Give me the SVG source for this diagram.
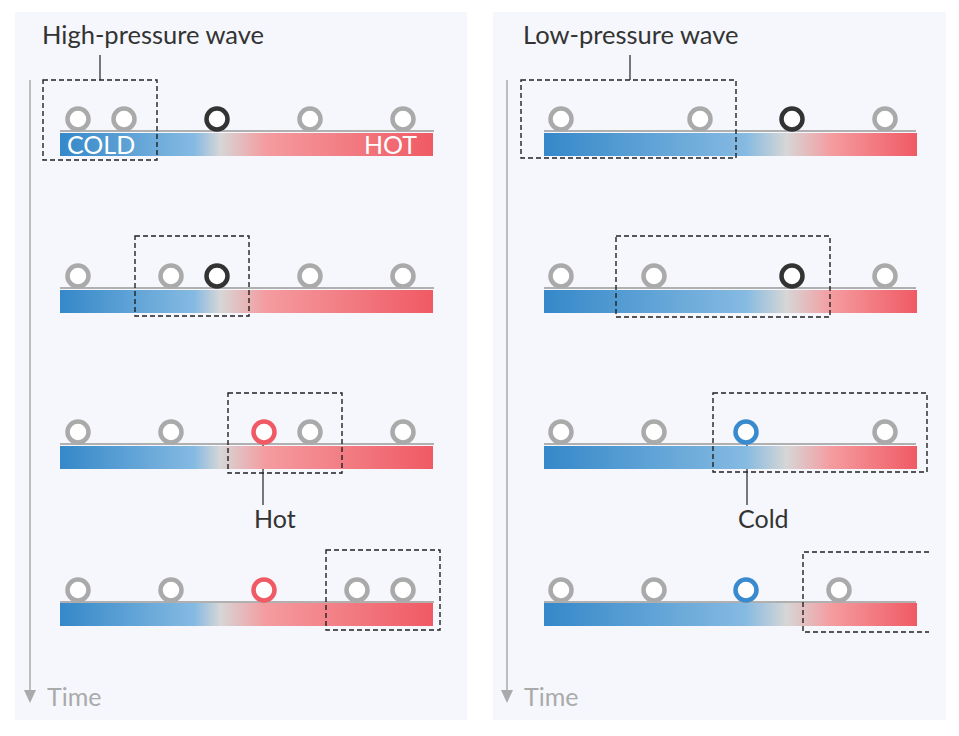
<svg xmlns="http://www.w3.org/2000/svg" width="959" height="736" viewBox="0 0 959 736">
<defs>
<linearGradient id="gL" x1="0" y1="0" x2="1" y2="0">
<stop offset="0" stop-color="#3588c9"/><stop offset="0.36" stop-color="#85bae2"/><stop offset="0.43" stop-color="#d6d6d6"/><stop offset="0.55" stop-color="#f49ca0"/><stop offset="1" stop-color="#f05a64"/>
</linearGradient>
<linearGradient id="gR" x1="0" y1="0" x2="1" y2="0">
<stop offset="0" stop-color="#3588c9"/><stop offset="0.54" stop-color="#85bae2"/><stop offset="0.65" stop-color="#d6d6d6"/><stop offset="0.77" stop-color="#f49ca0"/><stop offset="1" stop-color="#f05a64"/>
</linearGradient>
</defs>
<style>
.panel{fill:#f5f7fc}
.title{font-family:Lato,"Liberation Sans",sans-serif;font-size:25.5px;fill:#333}
.time{font-family:Lato,"Liberation Sans",sans-serif;font-size:25px;fill:#aaa}
.lbl{font-family:Lato,"Liberation Sans",sans-serif;font-size:25px;fill:#333}
.bar-t{font-family:Lato,"Liberation Sans",sans-serif;font-size:25px;fill:#fff}
.rail{stroke:#999;stroke-width:1.5}
.g{fill:#fff;stroke:#aaa;stroke-width:4.5}
.k{fill:#fff;stroke:#333;stroke-width:4.5}
.r{fill:#fff;stroke:#f05a64;stroke-width:4.5}
.b{fill:#fff;stroke:#3a8bcd;stroke-width:4.5}
.box{fill:none;stroke:#222;stroke-width:1.4;stroke-dasharray:5 3}
.lead{stroke:#333;stroke-width:1.3;fill:none}
.axis{stroke:#aaa;stroke-width:1.5;fill:none}
.head{fill:#aaa}
</style>
<rect class="panel" x="15" y="12" width="452" height="708"/>
<rect class="panel" x="493" y="12" width="453" height="708"/>

<g id="left-title"><text class="title" x="42" y="44">High-pressure wave</text></g>
<g id="right-title"><text class="title" x="523" y="44">Low-pressure wave</text></g>

<g id="left-time"><text class="time" x="47" y="706">Time</text></g>
<g id="right-time"><text class="time" x="524" y="706">Time</text></g>

<g id="connectors">
<line class="axis" x1="30" y1="80" x2="30" y2="692"/>
<polygon class="head" points="24,690 36,690 30,703"/>
<line class="axis" x1="507" y1="80" x2="507" y2="692"/>
<polygon class="head" points="501,690 513,690 507,703"/>
<line class="lead" x1="100" y1="55" x2="100" y2="80"/>
<line class="lead" x1="630" y1="55" x2="630" y2="80"/>
<line class="lead" x1="263" y1="445" x2="263" y2="505"/>
<line class="lead" x1="747" y1="445" x2="747" y2="505"/>
</g>

<g id="left-row1">
<rect x="60" y="133" width="373" height="23" fill="url(#gL)"/>
<line class="rail" x1="60" y1="131" x2="434" y2="131"/>
<text class="bar-t" x="67" y="154">COLD</text>
<text class="bar-t" x="417" y="154" text-anchor="end">HOT</text>
<circle class="g" cx="78" cy="119" r="10.5"/><circle class="g" cx="124" cy="119" r="10.5"/><circle class="k" cx="217" cy="119" r="10.5"/><circle class="g" cx="310" cy="119" r="10.5"/><circle class="g" cx="403" cy="119" r="10.5"/>
<rect class="box" x="43" y="80" width="114" height="80"/>
</g>
<g id="left-row2">
<rect x="60" y="290" width="373" height="23" fill="url(#gL)"/>
<line class="rail" x1="60" y1="288" x2="434" y2="288"/>
<circle class="g" cx="78" cy="276" r="10.5"/><circle class="g" cx="171" cy="276" r="10.5"/><circle class="k" cx="217" cy="276" r="10.5"/><circle class="g" cx="310" cy="276" r="10.5"/><circle class="g" cx="403" cy="276" r="10.5"/>
<rect class="box" x="135" y="236" width="114" height="80"/>
</g>
<g id="left-row3">
<rect x="60" y="446" width="373" height="23" fill="url(#gL)"/>
<line class="rail" x1="60" y1="444" x2="434" y2="444"/>
<circle class="g" cx="78" cy="432" r="10.5"/><circle class="g" cx="171" cy="432" r="10.5"/><circle class="r" cx="264" cy="432" r="10.5"/><circle class="g" cx="310" cy="432" r="10.5"/><circle class="g" cx="403" cy="432" r="10.5"/>
<rect class="box" x="228" y="393" width="114" height="80"/>
<text class="lbl" x="254" y="528">Hot</text>
</g>
<g id="left-row4">
<rect x="60" y="603" width="373" height="23" fill="url(#gL)"/>
<line class="rail" x1="60" y1="602" x2="434" y2="602"/>
<circle class="g" cx="78" cy="590" r="10.5"/><circle class="g" cx="171" cy="590" r="10.5"/><circle class="r" cx="264" cy="590" r="10.5"/><circle class="g" cx="357" cy="590" r="10.5"/><circle class="g" cx="403" cy="590" r="10.5"/>
<rect class="box" x="326" y="550" width="114" height="80"/>
</g>

<g id="right-row1">
<rect x="544" y="133" width="373" height="23" fill="url(#gR)"/>
<line class="rail" x1="544" y1="131" x2="916" y2="131"/>
<circle class="g" cx="561" cy="119" r="10.5"/><circle class="g" cx="700" cy="119" r="10.5"/><circle class="k" cx="792" cy="119" r="10.5"/><circle class="g" cx="885" cy="119" r="10.5"/>
<rect class="box" x="521" y="80" width="215" height="78"/>
</g>
<g id="right-row2">
<rect x="544" y="290" width="373" height="23" fill="url(#gR)"/>
<line class="rail" x1="544" y1="288" x2="916" y2="288"/>
<circle class="g" cx="561" cy="276" r="10.5"/><circle class="g" cx="654" cy="276" r="10.5"/><circle class="k" cx="792" cy="276" r="10.5"/><circle class="g" cx="885" cy="276" r="10.5"/>
<rect class="box" x="616" y="236" width="214" height="81"/>
</g>
<g id="right-row3">
<rect x="544" y="446" width="373" height="23" fill="url(#gR)"/>
<line class="rail" x1="544" y1="444" x2="916" y2="444"/>
<circle class="g" cx="561" cy="432" r="10.5"/><circle class="g" cx="654" cy="432" r="10.5"/><circle class="b" cx="746" cy="432" r="10.5"/><circle class="g" cx="885" cy="432" r="10.5"/>
<rect class="box" x="713" y="393" width="214" height="79"/>
<text class="lbl" x="738" y="528">Cold</text>
</g>
<g id="right-row4">
<rect x="544" y="603" width="373" height="23" fill="url(#gR)"/>
<line class="rail" x1="544" y1="602" x2="916" y2="602"/>
<circle class="g" cx="561" cy="590" r="10.5"/><circle class="g" cx="654" cy="590" r="10.5"/><circle class="b" cx="746" cy="590" r="10.5"/><circle class="g" cx="839" cy="590" r="10.5"/>
<path class="box" d="M929,552 H803 V632 H929"/>
</g>
</svg>
